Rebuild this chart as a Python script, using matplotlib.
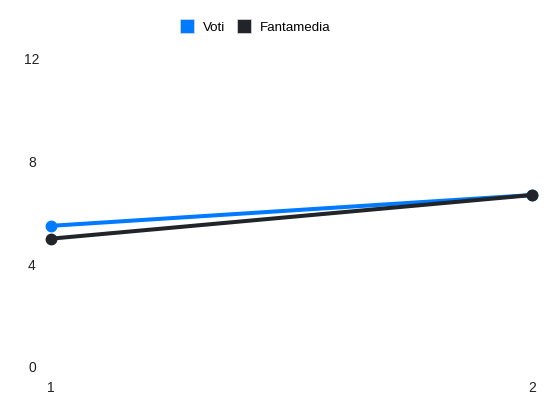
import matplotlib
matplotlib.use("Agg")
import matplotlib.pyplot as plt
from matplotlib.lines import Line2D

plt.rcParams['font.family'] = ['Liberation Sans', 'DejaVu Sans']

giornate = [1, 2]
voti = [5.5, 6.7]
fantamedia = [5.0, 6.7]
y_ticks = [0, 4, 8, 12]

blue = '#007bff'
dark = '#212529'

fig = plt.figure(figsize=(5.5, 4.12), dpi=100)
ax = fig.add_axes([51 / 550, 45 / 412, 481 / 550, 308 / 412])

ax.plot(giornate, voti, color=blue, lw=2.9, marker='o', ms=7.5,
        solid_capstyle='round', zorder=3, clip_on=False)
ax.plot(giornate, fantamedia, color=dark, lw=2.9, marker='o', ms=7.5,
        solid_capstyle='round', zorder=4, clip_on=False)

ax.set_xlim(1, 2)
ax.set_ylim(0, 12)
ax.set_xticks(giornate)
ax.set_xticklabels([str(g) for g in giornate])
ax.set_yticks(y_ticks)
ax.tick_params(length=0, labelsize=10, colors='#222222')
for s in ax.spines.values():
    s.set_visible(False)
for lab in ax.get_yticklabels():
    lab.set_horizontalalignment('center')
ax.tick_params(axis='y', pad=13.7)
ax.tick_params(axis='x', pad=10)

handles = [Line2D([], [], ls='none', marker='s', ms=9.4, mfc=blue, mec='#dddddd', mew=0.5),
           Line2D([], [], ls='none', marker='s', ms=9.4, mfc=dark, mec='#dddddd', mew=0.5)]
fig.legend(handles, ['Voti', 'Fantamedia'], loc='center',
           bbox_to_anchor=(255.5 / 550, 1 - 27.7 / 412),
           ncol=2, frameon=False, fontsize=9.6, handlelength=1.0, handletextpad=0.68,
           columnspacing=0.9, borderpad=0, borderaxespad=0)

fig.savefig('out.png', dpi=100)
